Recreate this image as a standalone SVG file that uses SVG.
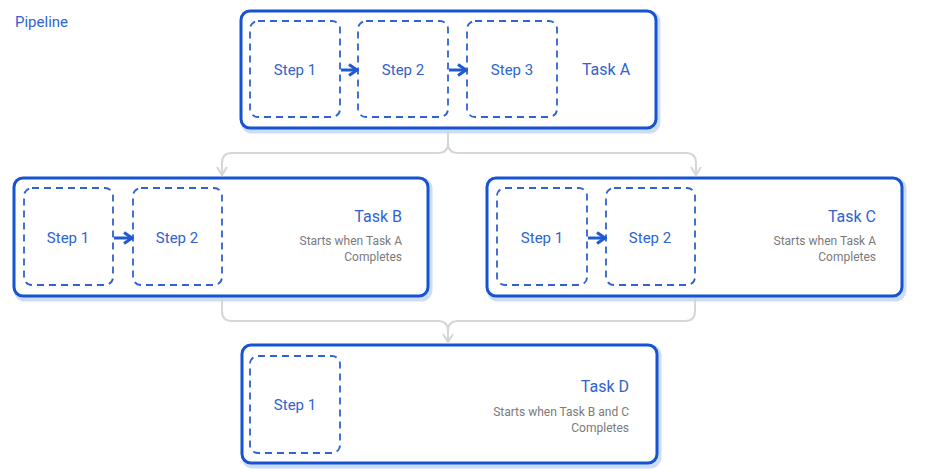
<svg xmlns="http://www.w3.org/2000/svg" width="927" height="472" viewBox="0 0 927 472">
<defs>
<style>
.glow{fill:none;stroke:#cddcf7;stroke-width:5}
.task{fill:#fff;stroke:#1553d1;stroke-width:3}
.step{fill:none;stroke:#2f63cf;stroke-width:1.8;stroke-dasharray:7 5}
.st{font-family:Roboto,"Liberation Sans",sans-serif;font-size:15px;fill:#2f63cf;text-anchor:middle}
.tt{font-family:Roboto,"Liberation Sans",sans-serif;font-size:16px;fill:#2f63cf;text-anchor:end}
.sub{font-family:Roboto,"Liberation Sans",sans-serif;font-size:12px;fill:#7a7a7a;text-anchor:end}
.conn{fill:none;stroke:#d6d6d6;stroke-width:2}
.sa{fill:none;stroke:#1f5ad3;stroke-width:3}
</style>
<marker id="gh" markerWidth="12" markerHeight="12" viewBox="0 0 12 12" refX="10" refY="6" orient="auto" markerUnits="userSpaceOnUse">
<path d="M2,1 L10,6 L2,11" fill="none" stroke="#d6d6d6" stroke-width="2"/>
</marker>
<marker id="bh" markerWidth="14" markerHeight="14" viewBox="0 0 14 14" refX="12" refY="7" orient="auto" markerUnits="userSpaceOnUse">
<path d="M4,1.5 L12,7 L4,12.5" fill="none" stroke="#1f5ad3" stroke-width="3"/>
</marker>
</defs>
<rect width="927" height="472" fill="#fff"/>
<text x="15" y="27" font-family="Roboto,'Liberation Sans',sans-serif" font-size="15" fill="#2f63cf">Pipeline</text>

<g id="taskA">
<rect class="glow" x="243" y="13" width="415" height="118" rx="9"/>
<rect class="task" x="241" y="11" width="415" height="117" rx="9"/>
<text class="st" x="606" y="75" style="font-size:16px">Task A</text>
</g>
<g id="a-step1"><rect class="step" x="250" y="21" width="90" height="96" rx="8"/><text class="st" x="295" y="75">Step 1</text></g>
<g id="a-step2"><rect class="step" x="358" y="21" width="90" height="96" rx="8"/><text class="st" x="403" y="75">Step 2</text></g>
<g id="a-step3"><rect class="step" x="467" y="21" width="90" height="96" rx="8"/><text class="st" x="512" y="75">Step 3</text></g>

<g id="taskB">
<rect class="glow" x="16" y="180" width="414" height="119" rx="9"/>
<rect class="task" x="14" y="178" width="414" height="118" rx="9"/>
<text class="tt" x="402" y="222">Task B</text>
<text class="sub" x="402" y="245">Starts when Task A</text>
<text class="sub" x="402" y="261">Completes</text>
</g>
<g id="b-step1"><rect class="step" x="24" y="188" width="89" height="97" rx="8"/><text class="st" x="68" y="243">Step 1</text></g>
<g id="b-step2"><rect class="step" x="133" y="188" width="89" height="97" rx="8"/><text class="st" x="177" y="243">Step 2</text></g>

<g id="taskC">
<rect class="glow" x="489" y="180" width="415" height="119" rx="9"/>
<rect class="task" x="487" y="178" width="415" height="118" rx="9"/>
<text class="tt" x="876" y="222">Task C</text>
<text class="sub" x="876" y="245">Starts when Task A</text>
<text class="sub" x="876" y="261">Completes</text>
</g>
<g id="c-step1"><rect class="step" x="497" y="188" width="90" height="97" rx="8"/><text class="st" x="542" y="243">Step 1</text></g>
<g id="c-step2"><rect class="step" x="606" y="188" width="89" height="97" rx="8"/><text class="st" x="650" y="243">Step 2</text></g>

<g id="taskD">
<rect class="glow" x="244" y="347" width="415" height="119" rx="9"/>
<rect class="task" x="242" y="345" width="415" height="118" rx="9"/>
<text class="tt" x="629" y="392">Task D</text>
<text class="sub" x="629" y="416">Starts when Task B and C</text>
<text class="sub" x="629" y="432">Completes</text>
</g>
<g id="d-step1"><rect class="step" x="250" y="356" width="90" height="97" rx="8"/><text class="st" x="295" y="410">Step 1</text></g>

<g id="connectors">
<path class="conn" d="M448,130 V143 Q448,153 438,153 H232 Q222,153 222,163 V175" marker-end="url(#gh)"/>
<path class="conn" d="M448,143 Q448,153 458,153 H686 Q696,153 696,163 V175" marker-end="url(#gh)"/>
<path class="conn" d="M222,298 V311 Q222,321 232,321 H438 Q448,321 448,331 V342" marker-end="url(#gh)"/>
<path class="conn" d="M695,298 V311 Q695,321 685,321 H458 Q448,321 448,331"/>
<path class="sa" d="M341,70 H357" marker-end="url(#bh)"/>
<path class="sa" d="M449,70 H466" marker-end="url(#bh)"/>
<path class="sa" d="M114,238 H132" marker-end="url(#bh)"/>
<path class="sa" d="M588,238 H605" marker-end="url(#bh)"/>
</g>
</svg>
